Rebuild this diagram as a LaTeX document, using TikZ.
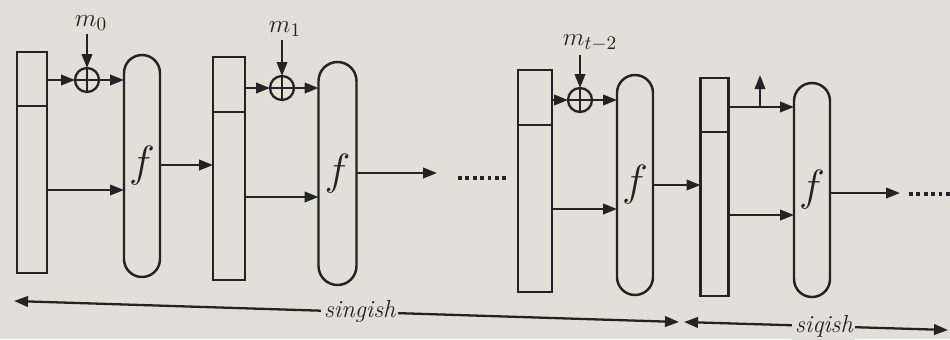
\documentclass[tikz,border=0pt]{standalone}
\usetikzlibrary{arrows.meta}
\definecolor{bg}{RGB}{224,223,216}
\definecolor{ink}{RGB}{35,35,35}
\begin{document}
\begin{tikzpicture}[x=0.2mm,y=-0.2mm,
  every node/.style={inner sep=0pt, outer sep=0pt, text=ink},
  block/.style={draw=ink, line width=1.4pt},
  fbox/.style={draw=ink, line width=1.4pt, font=\fontsize{24}{28}\selectfont},
  xorc/.style={draw=ink, line width=1.3pt, circle, minimum size=4.8mm},
  lbl/.style={inner sep=2pt, font=\fontsize{15}{18}\selectfont},
  arr/.style={draw=ink, line width=1.3pt, -{Triangle[length=2.8mm,width=2.1mm]}},
  darr/.style={draw=ink, line width=1.3pt, {Triangle[length=2.8mm,width=2.1mm]}-{Triangle[length=2.8mm,width=2.1mm]}},
  dots/.style={draw=ink, line width=2.2pt, dash pattern=on 2.2pt off 2pt},
  span/.style={fill=bg, inner sep=1.5pt, font=\fontsize{14}{16}\selectfont\itshape}]
\fill[bg] (0,0) rectangle (950,339);
\useasboundingbox (0,0) rectangle (950,339);

% blocks (state registers)
\node[block, minimum width=6mm,   minimum height=44.2mm] (r1) at (32,162.5) {};
\node[block, minimum width=6.4mm, minimum height=44.6mm] (r2) at (229,168.5) {};
\node[block, minimum width=6.8mm, minimum height=44.4mm] (r3) at (535,181) {};
\node[block, minimum width=5.6mm, minimum height=43.6mm] (r4) at (714.5,187) {};
\draw[block] (r1.west |- 0,106) -- (r1.east |- 0,106);
\draw[block] (r2.west |- 0,112) -- (r2.east |- 0,112);
\draw[block] (r3.west |- 0,125) -- (r3.east |- 0,125);
\draw[block] (r4.west |- 0,132) -- (r4.east |- 0,132);

% f boxes
\node[fbox, rounded corners=3.6mm, minimum width=7.2mm, minimum height=44.4mm] (o1) at (142,166) {$f$};
\node[fbox, rounded corners=3.8mm, minimum width=7.6mm, minimum height=44.6mm] (o2) at (337.5,173.5) {$f$};
\node[fbox, rounded corners=3.6mm, minimum width=7.2mm, minimum height=44mm] (o3) at (635,185) {$f$};
\node[fbox, rounded corners=3.6mm, minimum width=7.2mm, minimum height=42.8mm] (o4) at (812,190) {$f$};

% xor circles
\node[xorc] (c0) at (87,80) {};
\node[xorc] (c1) at (282,88) {};
\node[xorc] (c2) at (580,100) {};
\foreach \c in {c0,c1,c2}{
  \draw[ink, line width=1pt] (\c.north) -- (\c.south) (\c.west) -- (\c.east);
}

% message labels
\node[lbl] (m0) at (91,23) {$m_0$};
\node[lbl] (m1) at (285,29) {$m_1$};
\node[lbl] (m2) at (590,43) {$m_{t-2}$};
\draw[arr] (m0.south -| c0) -- (c0.north);
\draw[arr] (m1.south -| c1) -- (c1.north);
\draw[arr] (m2.south -| c2) -- (c2.north);

% upper arrows
\draw[arr] (r1.east |- c0) -- (c0.west);
\draw[arr] (c0.east) -- (o1.west |- c0);
\draw[arr] (r2.east |- c1) -- (c1.west);
\draw[arr] (c1.east) -- (o2.west |- c1);
\draw[arr] (r3.east |- c2) -- (c2.west);
\draw[arr] (c2.east) -- (o3.west |- c2);
\coordinate (tap) at (760,107);
\coordinate (up) at (760,75);
\draw[arr] (r4.east |- tap) -- (o4.west |- tap);
\draw[arr] (tap) -- (up);

% lower arrows
\draw[arr] (r1.east |- 0,190) -- (o1.west |- 0,190);
\draw[arr] (o1.east |- 0,165) -- (r2.west |- 0,165);
\draw[arr] (r2.east |- 0,197) -- (o2.west |- 0,197);
\coordinate (e2) at (437,173);
\draw[arr] (o2.east |- e2) -- (e2);
\draw[arr] (r3.east |- 0,209) -- (o3.west |- 0,209);
\draw[arr] (o3.east |- 0,185) -- (r4.west |- 0,185);
\draw[arr] (r4.east |- 0,215) -- (o4.west |- 0,215);
\coordinate (e4) at (900,193);
\draw[arr] (o4.east |- e4) -- (e4);

% continuation dots
\coordinate (d1a) at (458,178); \coordinate (d1b) at (508,178);
\coordinate (d2a) at (909,194); \coordinate (d2b) at (950,194);
\draw[dots] (d1a) -- (d1b);
\draw[dots] (d2a) -- (d2b);

% spans
\coordinate (s1a) at (14,301); \coordinate (s1b) at (679,322);
\coordinate (s2a) at (684,322); \coordinate (s2b) at (948,330);
\draw[darr] (s1a) -- (s1b) node[span, pos=0.52] {singish};
\draw[darr] (s2a) -- (s2b) node[span, pos=0.53] {siqish};
\end{tikzpicture}
\end{document}
